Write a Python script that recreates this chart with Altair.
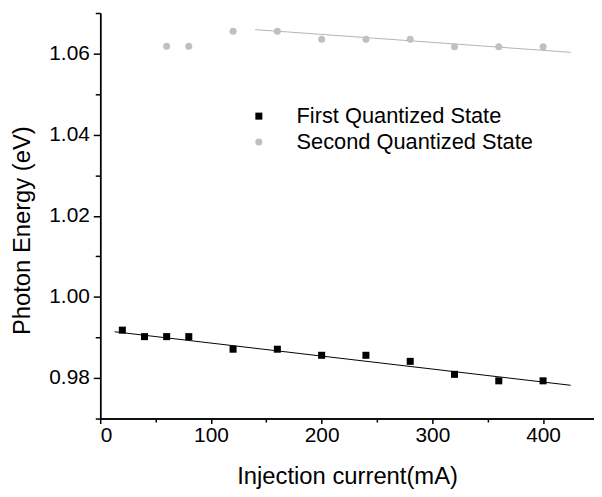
import altair as alt
import pandas as pd

# ---- data ----
current_first = [20, 40, 60, 80, 120, 160, 200, 240, 280, 320, 360, 400]
energy_first = [0.9918, 0.9902, 0.9902, 0.9902, 0.9871, 0.9871, 0.9856, 0.9856,
                0.9841, 0.9809, 0.9793, 0.9793]
current_second = [60, 80, 120, 160, 200, 240, 280, 320, 360, 400]
energy_second = [1.0618, 1.0618, 1.0655, 1.0655, 1.0635, 1.0635, 1.0635,
                 1.0617, 1.0617, 1.0617]
fit_first_x = [13, 425]
fit_first_y = [0.9914, 0.9782]
fit_second_x = [140, 425]
fit_second_y = [1.0659, 1.0603]
series_names = ["First Quantized State", "Second Quantized State"]
x_major = [0, 100, 200, 300, 400]
x_minor = [50, 150, 250, 350, 450]
y_major = [0.98, 1.00, 1.02, 1.04, 1.06]
y_minor = [0.97, 0.99, 1.01, 1.03, 1.05, 1.07]

points = pd.DataFrame({
    "current": current_first + current_second,
    "energy": energy_first + energy_second,
    "series": [series_names[0]] * len(current_first) + [series_names[1]] * len(current_second),
})
fit1 = pd.DataFrame({"current": fit_first_x, "energy": fit_first_y})
fit2 = pd.DataFrame({"current": fit_second_x, "energy": fit_second_y})

FONT = "Liberation Sans"
xscale = alt.Scale(domain=[0, 446], nice=False, zero=False)
yscale = alt.Scale(domain=[0.97, 1.07], nice=False, zero=False)

minor_x_axis = alt.Axis(orient="bottom", values=x_minor, labels=False, tickSize=3.5,
                        title=None, grid=False)
minor_y_axis = alt.Axis(orient="left", values=y_minor, labels=False, tickSize=5,
                        title=None, grid=False)

line1 = alt.Chart(fit1).mark_line(color="black", strokeWidth=1).encode(
    x=alt.X("current:Q", scale=xscale, axis=minor_x_axis),
    y=alt.Y("energy:Q", scale=yscale, axis=minor_y_axis),
)
line2 = alt.Chart(fit2).mark_line(color="#b4b4b4", strokeWidth=1).encode(
    x=alt.X("current:Q", scale=xscale, axis=None),
    y=alt.Y("energy:Q", scale=yscale, axis=None),
)

legend_kw = dict(title=None, orient="none", legendX=149, legendY=93,
                 labelFontSize=22, labelFont=FONT, symbolSize=50, labelLimit=0,
                 labelOffset=27, rowPadding=4, padding=0,
                 symbolOffset=0, symbolStrokeWidth=0)

pts = alt.Chart(points).mark_point(filled=True, opacity=1, size=50).encode(
    x=alt.X("current:Q", scale=xscale,
            axis=alt.Axis(orient="bottom", values=x_major, tickSize=5, labelFontSize=21,
                          labelPadding=1, title="Injection current(mA)", titleFontSize=24,
                          titleFontWeight="normal", titleX=249, titleY=66,
                          titleBaseline="alphabetic", titleAlign="center", grid=False)),
    y=alt.Y("energy:Q", scale=yscale,
            axis=alt.Axis(orient="left", values=y_major, format=".2f", tickSize=7,
                          labelFontSize=21, labelPadding=4, title="Photon Energy (eV)",
                          titleFontSize=24, titleFontWeight="normal", titleX=-71,
                          titleY=219, titleBaseline="alphabetic", titleAlign="center",
                          grid=False)),
    color=alt.Color("series:N",
                    scale=alt.Scale(domain=series_names, range=["#000000", "#c0c0c0"]),
                    legend=alt.Legend(**legend_kw)),
    shape=alt.Shape("series:N",
                    scale=alt.Scale(domain=series_names, range=["square", "circle"]),
                    legend=alt.Legend(**legend_kw)),
)

chart = alt.layer(line1, line2, pts).resolve_axis(
    x="independent", y="independent"
).properties(
    width=498, height=409,
    autosize=alt.AutoSizeParams(type="none"),
    padding={"left": 93, "top": 3, "right": 0, "bottom": 69},
).configure_view(
    stroke=None
).configure_axis(
    domainColor="black", domainWidth=1.5, tickColor="black", tickWidth=1.5,
    labelColor="black", titleColor="black", labelFont=FONT, titleFont=FONT,
).configure_legend(
    labelColor="black"
)

chart.save("out.html", embed_options={"renderer": "svg", "actions": False})
